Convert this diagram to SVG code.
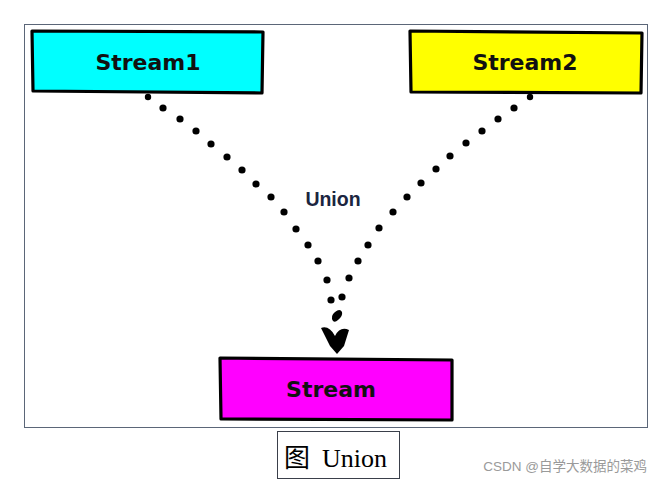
<svg xmlns="http://www.w3.org/2000/svg" width="661" height="482" viewBox="0 0 661 482">
<style>
.box{stroke:#000;stroke-width:3.2;stroke-linejoin:round}
.lbl{font-family:"DejaVu Sans",sans-serif;font-weight:bold;font-size:22px;fill:#111;text-anchor:middle}
.dot{fill:#000}
</style>
<rect x="0" y="0" width="661" height="482" fill="#fff"/>
<rect x="24.5" y="24.5" width="623" height="403" fill="none" stroke="#5b6678" stroke-width="1"/>
<g id="stream1">
<polygon class="box" fill="#00ffff" points="32,31 263,32 262,93 33,91"/>
<text class="lbl" x="148" y="70">Stream1</text>
</g>
<g id="stream2">
<polygon class="box" fill="#ffff00" points="410,31 642,33 641,93 411,92"/>
<text class="lbl" x="525" y="70">Stream2</text>
</g>
<g id="stream">
<polygon class="box" fill="#ff00ff" points="220,358 452,360 452,420 221,419"/>
<text class="lbl" x="331" y="397">Stream</text>
</g>
<g id="connectors">
<circle class="dot" cx="148" cy="97" r="3.2"/>
<circle class="dot" cx="163" cy="108" r="3.6"/>
<circle class="dot" cx="180" cy="119" r="3.6"/>
<circle class="dot" cx="196" cy="131" r="3.6"/>
<circle class="dot" cx="211" cy="144" r="3.6"/>
<circle class="dot" cx="227" cy="157" r="3.6"/>
<circle class="dot" cx="242" cy="170" r="3.6"/>
<circle class="dot" cx="256" cy="184" r="3.6"/>
<circle class="dot" cx="271" cy="197" r="3.6"/>
<circle class="dot" cx="284" cy="212" r="3.6"/>
<circle class="dot" cx="296" cy="229" r="3.6"/>
<circle class="dot" cx="308" cy="245" r="3.6"/>
<circle class="dot" cx="318" cy="261" r="3.6"/>
<circle class="dot" cx="327" cy="280" r="3.6"/>
<circle class="dot" cx="331" cy="300" r="3.6"/>
<circle class="dot" cx="530" cy="97" r="3.2"/>
<circle class="dot" cx="514" cy="108" r="3.6"/>
<circle class="dot" cx="498" cy="119" r="3.6"/>
<circle class="dot" cx="482" cy="131" r="3.6"/>
<circle class="dot" cx="466" cy="143" r="3.6"/>
<circle class="dot" cx="450" cy="156" r="3.6"/>
<circle class="dot" cx="436" cy="169" r="3.6"/>
<circle class="dot" cx="421" cy="183" r="3.6"/>
<circle class="dot" cx="407" cy="197" r="3.6"/>
<circle class="dot" cx="393" cy="212" r="3.6"/>
<circle class="dot" cx="379" cy="228" r="3.6"/>
<circle class="dot" cx="368" cy="245" r="3.6"/>
<circle class="dot" cx="358" cy="261" r="3.6"/>
<circle class="dot" cx="349" cy="278" r="3.6"/>
<circle class="dot" cx="342" cy="297" r="3.6"/>
<path class="dot" d="M333,321 Q330,316 335,312 Q340,308 342,312 Q343,316 338,320 Q335,323 333,321 Z"/>
<path class="dot" d="M321,328 Q329,325 335,336 Q340,326 349,330 L344,346 L337,354 L330,346 Z"/>
<text x="333" y="206" font-family="Liberation Sans, Arial, sans-serif" font-weight="bold" font-size="19.5" fill="#1b2540" text-anchor="middle">Union</text>
</g>
<g id="caption">
<rect x="277.5" y="431.5" width="122" height="47" fill="#fff" stroke="#3a3f4a" stroke-width="1"/>
<text x="284" y="467" font-family="Liberation Serif, 'Noto Sans CJK SC', serif" font-size="26" fill="#000">图</text>
<text x="322" y="467" font-family="Liberation Serif, serif" font-size="26" fill="#000">Union</text>
</g>
<text x="647" y="471" font-family="Liberation Sans, 'Noto Sans CJK SC', sans-serif" font-size="13.5" fill="#9a9a9a" text-anchor="end">CSDN @自学大数据的菜鸡</text>
</svg>
